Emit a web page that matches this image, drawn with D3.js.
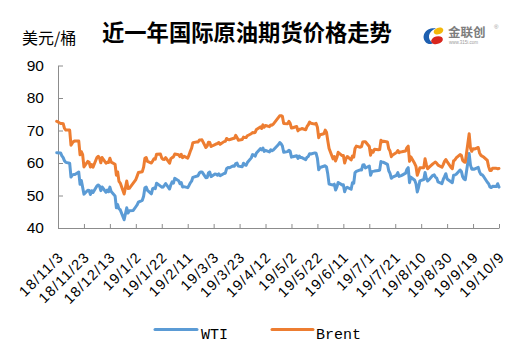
<!DOCTYPE html>
<html>
<head>
<meta charset="utf-8">
<script src="https://cdn.jsdelivr.net/npm/d3@7"></script>
<style>
html,body{margin:0;padding:0;background:#fff;}
svg{display:block;}
</style>
</head>
<body>
<svg id="chart" width="531" height="354"></svg>
<script>
// ---- data ----
const dates = [
"2018-11-02","2018-11-05","2018-11-06","2018-11-07","2018-11-08","2018-11-09","2018-11-12","2018-11-13","2018-11-14","2018-11-15","2018-11-16",
"2018-11-19","2018-11-20","2018-11-21","2018-11-22","2018-11-23","2018-11-26","2018-11-27","2018-11-28","2018-11-29","2018-11-30",
"2018-12-03","2018-12-04","2018-12-05","2018-12-06","2018-12-07","2018-12-10","2018-12-11","2018-12-12","2018-12-13","2018-12-14",
"2018-12-17","2018-12-18","2018-12-19","2018-12-20","2018-12-21","2018-12-24","2018-12-26","2018-12-27","2018-12-28","2018-12-31",
"2019-01-02","2019-01-03","2019-01-04","2019-01-07","2019-01-08","2019-01-09","2019-01-10","2019-01-11","2019-01-14","2019-01-15",
"2019-01-16","2019-01-17","2019-01-18","2019-01-21","2019-01-22","2019-01-23","2019-01-24","2019-01-25","2019-01-28","2019-01-29",
"2019-01-30","2019-01-31","2019-02-01","2019-02-04","2019-02-05","2019-02-06","2019-02-07","2019-02-08","2019-02-11","2019-02-12",
"2019-02-13","2019-02-14","2019-02-15","2019-02-18","2019-02-19","2019-02-20","2019-02-21","2019-02-22","2019-02-25","2019-02-26",
"2019-02-27","2019-02-28","2019-03-01","2019-03-04","2019-03-05","2019-03-06","2019-03-07","2019-03-08","2019-03-11","2019-03-12",
"2019-03-13","2019-03-14","2019-03-15","2019-03-18","2019-03-19","2019-03-20","2019-03-21","2019-03-22","2019-03-25","2019-03-26",
"2019-03-27","2019-03-28","2019-03-29","2019-04-01","2019-04-02","2019-04-03","2019-04-04","2019-04-05","2019-04-08","2019-04-09",
"2019-04-10","2019-04-11","2019-04-12","2019-04-15","2019-04-16","2019-04-17","2019-04-18","2019-04-22","2019-04-23","2019-04-24",
"2019-04-25","2019-04-26","2019-04-29","2019-04-30","2019-05-01","2019-05-02","2019-05-03","2019-05-06","2019-05-07","2019-05-08",
"2019-05-09","2019-05-10","2019-05-13","2019-05-14","2019-05-15","2019-05-16","2019-05-17","2019-05-20","2019-05-21","2019-05-22",
"2019-05-23","2019-05-24","2019-05-27","2019-05-28","2019-05-29","2019-05-30","2019-05-31","2019-06-03","2019-06-04","2019-06-05",
"2019-06-06","2019-06-07","2019-06-10","2019-06-11","2019-06-12","2019-06-13","2019-06-14","2019-06-17","2019-06-18","2019-06-19",
"2019-06-20","2019-06-21","2019-06-24","2019-06-25","2019-06-26","2019-06-27","2019-06-28","2019-07-01","2019-07-02","2019-07-03",
"2019-07-04","2019-07-05","2019-07-08","2019-07-09","2019-07-10","2019-07-11","2019-07-12","2019-07-15","2019-07-16","2019-07-17",
"2019-07-18","2019-07-19","2019-07-22","2019-07-23","2019-07-24","2019-07-25","2019-07-26","2019-07-29","2019-07-30","2019-07-31",
"2019-08-01","2019-08-02","2019-08-05","2019-08-06","2019-08-07","2019-08-08","2019-08-09","2019-08-12","2019-08-13","2019-08-14",
"2019-08-15","2019-08-16","2019-08-19","2019-08-20","2019-08-21","2019-08-22","2019-08-23","2019-08-26","2019-08-27","2019-08-28",
"2019-08-29","2019-08-30","2019-09-02","2019-09-03","2019-09-04","2019-09-05","2019-09-06","2019-09-09","2019-09-10","2019-09-11",
"2019-09-12","2019-09-13","2019-09-16","2019-09-17","2019-09-18","2019-09-19","2019-09-20","2019-09-23","2019-09-24","2019-09-25",
"2019-09-26","2019-09-27","2019-09-30","2019-10-01","2019-10-02","2019-10-03","2019-10-04","2019-10-07","2019-10-08","2019-10-09"
];
const wti = [
63.14,63.10,62.21,61.67,60.67,60.19,59.93,55.69,56.25,56.46,56.46,
57.20,53.43,54.63,null,50.42,51.63,51.56,50.29,51.45,50.93,
52.95,53.25,52.89,51.49,52.61,51.00,51.65,51.15,52.58,51.20,
49.88,46.24,47.20,45.88,45.59,42.53,46.22,44.61,45.33,45.41,
46.54,47.09,47.96,48.52,49.78,52.36,52.59,51.59,50.51,52.11,
52.31,52.07,53.80,null,52.57,52.62,53.13,53.69,51.99,53.31,
54.23,53.79,55.26,54.56,53.66,54.01,52.64,52.72,52.41,53.10,
53.90,54.41,55.59,null,56.09,56.92,57.26,57.26,55.48,55.50,
56.94,57.22,55.80,56.59,56.56,56.22,56.66,56.07,56.79,56.87,
58.26,58.61,58.52,59.09,59.03,59.83,59.98,59.04,58.82,59.94,
59.41,59.30,60.14,61.59,62.58,62.46,62.10,63.08,64.40,64.05,
64.61,63.58,63.89,63.40,64.05,63.76,64.00,65.70,66.30,65.89,
65.21,63.30,63.50,63.91,63.60,61.81,61.94,62.25,61.40,62.12,
61.70,61.66,61.04,61.78,62.02,62.87,62.76,63.10,62.99,61.42,
57.91,58.63,null,59.14,58.81,56.59,53.50,53.25,53.48,51.68,
52.59,53.99,53.26,53.27,51.14,52.28,52.51,51.93,53.90,53.76,
57.07,57.43,57.90,57.83,59.38,59.43,58.47,59.09,56.25,57.34,
null,57.51,57.66,57.83,60.43,60.20,60.21,59.58,57.62,56.78,
55.30,55.63,56.22,57.02,55.88,56.02,56.20,56.87,58.05,58.58,
53.95,55.66,54.69,53.63,51.09,52.54,54.50,54.93,57.10,55.23,
54.47,54.87,56.21,56.34,55.68,55.35,54.17,53.64,54.93,55.78,
56.71,55.10,null,53.94,56.26,56.30,56.52,57.85,57.40,55.75,
55.09,54.85,62.90,59.34,58.11,58.13,58.09,58.64,57.29,56.49,
56.41,55.91,54.07,53.62,52.64,52.45,52.81,52.75,53.63,52.59
];
const brent = [
72.83,72.17,72.13,72.07,70.65,70.18,70.12,65.47,66.12,66.62,66.76,
66.79,62.53,63.48,62.60,58.80,60.48,60.21,58.76,59.51,58.71,
61.69,62.08,61.56,60.06,61.67,59.97,60.20,60.15,61.45,60.28,
59.61,56.26,57.24,54.35,53.82,50.47,54.47,52.16,52.20,53.80,
54.91,55.95,57.06,57.33,58.72,61.44,61.68,60.48,59.99,60.64,
61.32,61.18,62.70,62.74,61.50,61.14,61.09,61.64,59.93,61.32,
61.65,61.89,62.75,62.51,61.98,62.69,61.63,62.10,61.51,62.42,
63.61,64.57,66.25,66.50,66.45,67.08,67.07,67.12,64.76,65.21,
66.39,66.31,65.07,65.67,65.86,65.99,66.30,65.74,66.58,66.67,
67.55,67.23,67.16,67.54,67.61,68.50,67.86,67.03,67.21,67.97,
67.83,67.82,68.39,69.01,69.37,69.31,69.40,70.34,71.10,70.61,
71.73,71.02,71.55,71.18,71.72,71.62,71.97,74.04,74.51,74.57,
74.35,72.15,72.04,72.80,72.18,70.75,70.85,71.24,69.88,70.37,
70.39,70.62,70.23,71.24,71.77,72.62,72.21,71.97,72.18,70.99,
67.76,68.69,69.00,70.11,69.45,66.87,64.49,61.28,61.97,60.63,
61.67,63.29,62.29,62.29,59.97,61.31,62.01,60.94,62.14,61.82,
64.45,65.20,64.86,65.05,66.49,66.55,66.55,65.06,62.40,63.82,
63.30,64.23,64.11,64.16,67.01,66.52,66.72,66.48,64.35,63.66,
61.93,62.47,63.26,63.83,63.18,63.39,63.46,63.71,64.72,65.17,
60.50,61.89,59.81,58.94,56.23,57.38,58.53,58.57,61.30,59.48,
58.23,58.64,59.74,60.03,60.30,59.92,59.34,58.70,59.51,60.49,
61.08,60.43,58.66,58.26,60.70,60.95,61.54,62.59,62.38,60.81,
60.38,60.22,69.02,64.55,63.60,64.40,64.28,64.77,63.10,62.39,
62.08,61.91,60.78,58.89,57.69,57.71,58.37,58.35,58.24,58.32
];
const xTickLabels = ["18/11/3","18/11/23","18/12/13","19/1/2","19/1/22","19/2/11","19/3/3","19/3/23","19/4/12",
  "19/5/2","19/5/22","19/6/11","19/7/1","19/7/21","19/8/10","19/8/30","19/9/19","19/10/9"];
const yTicks = [40,50,60,70,80,90];
const seriesNames = ["WTI","Brent"];

// ---- drawing ----
const svg = d3.select("#chart");
const parseDate = d3.utcParse("%Y-%m-%d");
const parseTick = s => { const p = s.split("/").map(Number); return new Date(Date.UTC(2000+p[0], p[1]-1, p[2])); };
const tickDates = xTickLabels.map(parseTick);

const x = d3.scaleUtc().domain([tickDates[0], tickDates[tickDates.length-1]]).range([58, 499]);
const y = d3.scaleLinear().domain([40, 90]).range([228, 65.5]);
const axisColor = "#8c8c8c";
const colors = ["#5b9bd5", "#ed7d31"];

// title
svg.append("text").attr("x", 102).attr("y", 41)
  .attr("font-family", "'Noto Sans CJK SC', sans-serif").attr("font-weight", "bold")
  .attr("font-size", 22.3).attr("fill", "#000").text("近一年国际原油期货价格走势");
svg.append("text").attr("x", 22).attr("y", 44)
  .attr("font-family", "'Noto Sans CJK SC', sans-serif")
  .attr("font-size", 16).attr("fill", "#000").text("美元/桶");

// logo
const logo = svg.append("g");
logo.append("path").attr("d", "M436,28.5 C426,27 420.5,36 425.5,42 C427.5,44.5 431.5,44.5 433,43 C427,40 427.5,31 436,28.5 Z").attr("fill", "#1d5fb0");
logo.append("ellipse").attr("cx", 438.5).attr("cy", 31).attr("rx", 5).attr("ry", 3.3).attr("transform", "rotate(-20 438.5 31)").attr("fill", "#f3b80a");
logo.append("ellipse").attr("cx", 437).attr("cy", 40.2).attr("rx", 6).attr("ry", 3.8).attr("transform", "rotate(-15 437 40.2)").attr("fill", "#d9261d");
logo.append("text").attr("x", 448).attr("y", 37).attr("font-family", "'Noto Sans CJK SC', sans-serif")
  .attr("font-size", 12.5).attr("font-weight", "bold").attr("fill", "#7d7d7d").text("金联创");
logo.append("text").attr("x", 449).attr("y", 43.5).attr("font-family", "Arial, sans-serif")
  .attr("font-size", 4.5).attr("fill", "#9a9a9a").text("www.315i.com");
logo.append("text").attr("x", 494).attr("y", 29).attr("font-family", "Arial, sans-serif")
  .attr("font-size", 6).attr("fill", "#9a9a9a").text("®");

// y axis
const yAxis = svg.append("g").attr("transform", "translate(58,0)")
  .call(d3.axisLeft(y).tickValues(yTicks).tickSizeInner(-5).tickSizeOuter(0).tickPadding(14).tickFormat(d3.format("d")));
yAxis.select(".domain").attr("stroke", axisColor);
yAxis.selectAll(".tick line").attr("stroke", axisColor);
yAxis.selectAll(".tick text").attr("font-family", "'Liberation Sans', Arial, sans-serif").attr("font-size", 15.5).attr("fill", "#000");

// x axis
const xAxis = svg.append("g").attr("transform", "translate(0,228)")
  .call(d3.axisBottom(x).tickValues(tickDates).tickSizeInner(-4).tickSizeOuter(0).tickFormat((d, i) => xTickLabels[i]));
xAxis.select(".domain").attr("stroke", axisColor);
xAxis.selectAll(".tick line").attr("stroke", axisColor);
xAxis.selectAll(".tick text")
  .attr("font-family", "'Liberation Sans', Arial, sans-serif").attr("font-size", 14.5).attr("fill", "#000")
  .attr("letter-spacing", 1.2)
  .attr("text-anchor", "end").attr("x", 0).attr("y", 0).attr("dy", 0)
  .attr("transform", "translate(6,30) rotate(-45)");

// lines
const seriesValues = [wti, brent];
seriesValues.forEach((vals, si) => {
  const pts = dates.map((d, i) => ({ date: parseDate(d), v: vals[i] })).filter(p => p.v != null);
  svg.append("path").datum(pts)
    .attr("fill", "none").attr("stroke", colors[si]).attr("stroke-width", 3)
    .attr("stroke-linejoin", "round").attr("stroke-linecap", "round")
    .attr("d", d3.line().x(p => x(p.date)).y(p => y(p.v)));
});

// legend
const legendPos = [{x1:155, x2:197, tx:201}, {x1:272, x2:313, tx:316}];
seriesNames.forEach((name, i) => {
  const L = legendPos[i];
  svg.append("line").attr("x1", L.x1).attr("x2", L.x2).attr("y1", 329.5).attr("y2", 329.5)
    .attr("stroke", colors[i]).attr("stroke-width", 3).attr("stroke-linecap", "round");
  svg.append("text").attr("x", L.tx).attr("y", 338.5)
    .attr("font-family", "'Liberation Mono', 'DejaVu Sans Mono', monospace").attr("font-size", 15)
    .attr("fill", "#000").text(name);
});
</script>
</body>
</html>
